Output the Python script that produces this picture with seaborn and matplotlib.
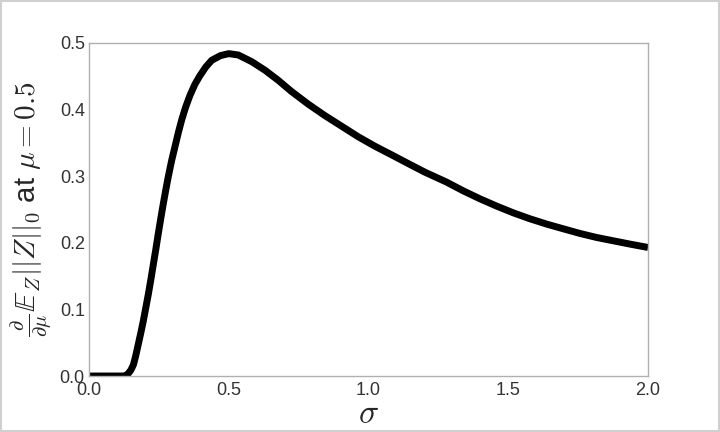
import matplotlib
matplotlib.use("Agg")
import matplotlib.pyplot as plt
import seaborn as sns
import pandas as pd

sigma = [0.000, 0.050, 0.100, 0.125, 0.133, 0.141, 0.150, 0.159, 0.167, 0.176,
         0.185, 0.194, 0.203, 0.212, 0.221, 0.230, 0.239, 0.248, 0.257, 0.266,
         0.275, 0.284, 0.296, 0.308, 0.320, 0.332, 0.346, 0.361, 0.379, 0.397,
         0.418, 0.439, 0.470, 0.500, 0.534, 0.582, 0.630, 0.677, 0.725, 0.785,
         0.844, 0.904, 0.964, 1.023, 1.083, 1.142, 1.202, 1.280, 1.339, 1.399,
         1.459, 1.518, 1.578, 1.638, 1.697, 1.757, 1.816, 1.876, 1.936, 2.000]
deriv = [0.000, 0.000, 0.000, 0.000, 0.001, 0.004, 0.009, 0.017, 0.030, 0.047,
         0.064, 0.082, 0.102, 0.122, 0.144, 0.167, 0.190, 0.214, 0.237, 0.259,
         0.280, 0.300, 0.324, 0.345, 0.366, 0.385, 0.404, 0.421, 0.438, 0.451,
         0.464, 0.474, 0.481, 0.484, 0.482, 0.472, 0.459, 0.444, 0.427, 0.408,
         0.391, 0.375, 0.359, 0.345, 0.332, 0.319, 0.306, 0.291, 0.278, 0.266,
         0.255, 0.245, 0.236, 0.228, 0.221, 0.214, 0.208, 0.203, 0.198, 0.193]
xticks = [0.0, 0.5, 1.0, 1.5, 2.0]
yticks = [0.0, 0.1, 0.2, 0.3, 0.4, 0.5]

sns.set_theme(style="white")
plt.rcParams['font.family'] = ['Liberation Sans', 'DejaVu Sans']
plt.rcParams['mathtext.fontset'] = 'cm'

df = pd.DataFrame({"sigma": sigma, "deriv": deriv})

fig = plt.figure(figsize=(7.2, 4.32), dpi=100)
ax = fig.add_axes([0.1236, 0.1296, 0.7764, 0.7709])
sns.lineplot(data=df, x="sigma", y="deriv", ax=ax, color="black", linewidth=5,
             solid_joinstyle="round", solid_capstyle="butt")
ax.set_xlim(0, 2.0)
ax.set_ylim(0, 0.5)
ax.set_xticks(xticks)
ax.set_yticks(yticks)
ax.set_xticklabels([f"{t:.1f}" for t in xticks], fontsize=13, color="#333333")
ax.set_yticklabels([f"{t:.1f}" for t in yticks], fontsize=13, color="#333333")
ax.tick_params(axis="x", length=0, pad=4)
ax.tick_params(axis="y", length=0, pad=3)
for s in ax.spines.values():
    s.set_color("#b0b0b0")
    s.set_linewidth(1.0)
ax.set_xlabel(r"$\sigma$", fontsize=24, color="#262626", labelpad=0)
ax.set_ylabel(r"$\frac{\partial}{\partial\mu}\mathbb{E}_Z||Z||_0$ at $\mu=\mathbf{0.5}$",
              fontsize=21, color="#262626", labelpad=4)
fig.patch.set_edgecolor("#d0d0d0")
fig.patch.set_linewidth(1.5)
fig.savefig("out.png", dpi=100, edgecolor=fig.get_edgecolor())
